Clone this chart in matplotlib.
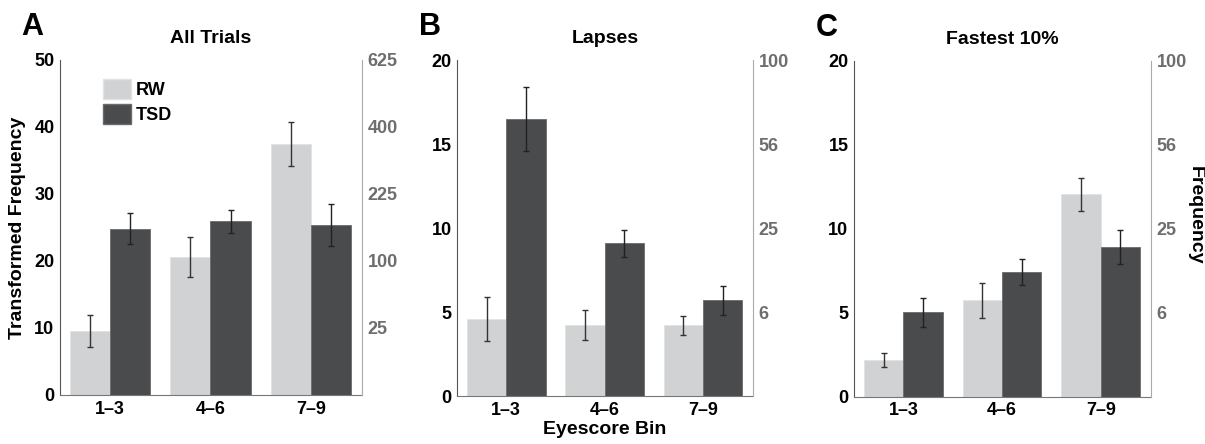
import numpy as np
import matplotlib.pyplot as plt
from matplotlib.patches import Patch

bins = ['1\u20133', '4\u20136', '7\u20139']

# transformed frequency (2*sqrt(count)) and error
all_rw = [9.6, 20.6, 37.5]
all_rw_err = [2.4, 3.0, 3.25]
all_tsd = [24.8, 25.9, 25.4]
all_tsd_err = [2.3, 1.7, 3.1]

lapse_rw = [4.6, 4.25, 4.2]
lapse_rw_err = [1.3, 0.9, 0.55]
lapse_tsd = [16.5, 9.1, 5.7]
lapse_tsd_err = [1.9, 0.8, 0.85]

fast_rw = [2.2, 5.75, 12.05]
fast_rw_err = [0.42, 1.04, 1.0]
fast_tsd = [5.03, 7.45, 8.9]
fast_tsd_err = [0.84, 0.78, 1.02]

left_ticks_a = [0, 10, 20, 30, 40, 50]
right_labels_a = ['25', '100', '225', '400', '625']
left_ticks_bc = [0, 5, 10, 15, 20]
right_labels_bc = ['6', '25', '56', '100']

RW_C = '#d1d2d4'
TSD_C = '#4a4b4d'
plt.rcParams['font.family'] = ['Liberation Sans', 'DejaVu Sans']
plt.rcParams['font.weight'] = 'bold'

fig = plt.figure(figsize=(12.05, 4.44), dpi=100)
positions = [[0.0498, 0.1104, 0.2506, 0.7545],
             [0.3793, 0.108, 0.2456, 0.7568],
             [0.7087, 0.106, 0.2465, 0.7572]]
panels = [
    ('A', 'All Trials', all_rw, all_rw_err, all_tsd, all_tsd_err, 50, left_ticks_a, right_labels_a),
    ('B', 'Lapses', lapse_rw, lapse_rw_err, lapse_tsd, lapse_tsd_err, 20, left_ticks_bc, right_labels_bc),
    ('C', 'Fastest 10%', fast_rw, fast_rw_err, fast_tsd, fast_tsd_err, 20, left_ticks_bc, right_labels_bc),
]

x = np.arange(1, 4)
w = 0.4
for i, (letter, title, rw, rwe, tsd, tsde, ymax, lticks, rlabels) in enumerate(panels):
    ax = fig.add_axes(positions[i])
    ax.bar(x - w / 2, rw, w, color=RW_C, edgecolor='#e2e3e4', linewidth=0.6, zorder=2)
    ax.bar(x + w / 2, tsd, w, color=TSD_C, edgecolor='#6a6b6d', linewidth=0.6, zorder=2)
    ax.errorbar(x - w / 2, rw, yerr=rwe, fmt='none', ecolor='#333333', elinewidth=1, capsize=2, capthick=1, zorder=3)
    ax.errorbar(x + w / 2, tsd, yerr=tsde, fmt='none', ecolor='#222222', elinewidth=1, capsize=2, capthick=1, zorder=3)
    ax.set_xlim(0.5, 3.51)
    ax.set_ylim(0, ymax)
    ax.set_xticks(x)
    ax.set_xticklabels(bins, fontsize=13, fontweight='bold')
    ax.set_yticks(lticks)
    ax.set_yticklabels([str(t) for t in lticks], fontsize=13, fontweight='bold')
    ax.tick_params(length=0, pad=4)
    ax.spines['top'].set_visible(False)
    ax.spines['right'].set_visible(False)
    ax.spines['left'].set_color('#555555')
    ax.spines['bottom'].set_color('#777777')
    ax.set_title(title, fontsize=14, fontweight='bold', pad=12)
    ax.text(-0.13, 1.075, letter, transform=ax.transAxes, fontsize=22,
            fontweight='bold', ha='left', va='baseline')

    ax2 = ax.twinx()
    ax2.set_ylim(0, ymax)
    rpos = [t for t in lticks if t > 0]
    ax2.set_yticks(rpos)
    ax2.set_yticklabels(rlabels, fontsize=13, fontweight='bold', color='#6e6e6e')
    ax2.tick_params(length=0, pad=4)
    for s in ['top', 'left', 'bottom']:
        ax2.spines[s].set_visible(False)
    ax2.spines['right'].set_color('#aaaaaa')

    if i == 0:
        ax.set_ylabel('Transformed Frequency', fontsize=14, fontweight='bold', labelpad=6)
        handles = [Patch(facecolor=RW_C, edgecolor='#e2e3e4'), Patch(facecolor=TSD_C, edgecolor='#6a6b6d')]
        ax.legend(handles, ['RW', 'TSD'], loc='upper left', bbox_to_anchor=(0.09, 0.992), frameon=False,
                  prop={'size': 13, 'weight': 'bold'}, handlelength=1.5, handleheight=1.3,
                  handletextpad=0.3, labelspacing=0.3)
    if i == 1:
        ax.set_xlabel('Eyescore Bin', fontsize=14, fontweight='bold', labelpad=2)
    if i == 2:
        ax2.set_ylabel('Frequency', fontsize=14, fontweight='bold', rotation=270,
                       va='center', ha='center')
        ax2.yaxis.set_label_coords(1.15, 0.54)

fig.savefig('out.png', dpi=100)
